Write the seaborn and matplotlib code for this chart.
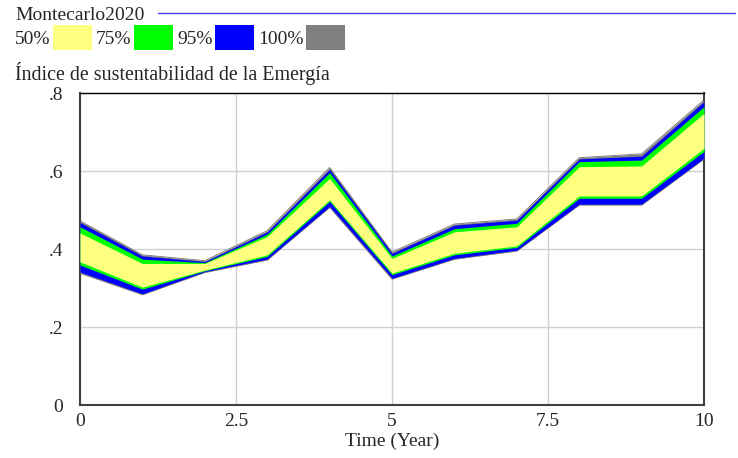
import numpy as np
import pandas as pd
import matplotlib
matplotlib.use("Agg")
import matplotlib.pyplot as plt
from matplotlib.patches import Patch
from matplotlib.lines import Line2D
from matplotlib.ticker import FuncFormatter
import seaborn as sns

# Sensitivity run: time axis and confidence band limits
time = [0, 1, 2, 3, 4, 5, 6, 7, 8, 9, 10]
p100_hi = [0.472, 0.385, 0.370, 0.447, 0.609, 0.392, 0.464, 0.477, 0.634, 0.644, 0.782]
p95_hi = [0.468, 0.382, 0.368, 0.444, 0.604, 0.389, 0.461, 0.474, 0.631, 0.638, 0.778]
p75_hi = [0.457, 0.374, 0.365, 0.438, 0.596, 0.382, 0.452, 0.466, 0.624, 0.628, 0.765]
p50_hi = [0.441, 0.363, 0.363, 0.432, 0.581, 0.376, 0.444, 0.457, 0.611, 0.613, 0.748]
p50_lo = [0.367, 0.302, 0.346, 0.385, 0.526, 0.338, 0.389, 0.408, 0.536, 0.536, 0.658]
p75_lo = [0.359, 0.297, 0.344, 0.381, 0.522, 0.334, 0.385, 0.404, 0.530, 0.530, 0.650]
p95_lo = [0.341, 0.285, 0.342, 0.374, 0.509, 0.325, 0.376, 0.397, 0.515, 0.515, 0.633]
p100_lo = [0.338, 0.283, 0.340, 0.372, 0.507, 0.323, 0.374, 0.395, 0.513, 0.513, 0.631]

band_labels = ["50%", "75%", "95%", "100%"]
band_colors = ["#ffff80", "#00ff00", "#0000ff", "#808080"]
x_ticks = [0, 2.5, 5, 7.5, 10]
y_ticks = [0, 0.2, 0.4, 0.6, 0.8]

sns.set_style("white")
plt.rcParams["font.family"] = ["Liberation Serif", "DejaVu Serif"]
plt.rcParams["font.size"] = 14

df = pd.DataFrame({"time": time, "hi": p100_hi, "lo": p100_lo})

fig = plt.figure(figsize=(7.38, 4.58), dpi=100)
ax = fig.add_axes([80 / 738, 1 - 405 / 458, 624 / 738, 312 / 458])

# outer edges of the 100% band (thin gray rim)
sns.lineplot(data=df, x="time", y="hi", ax=ax, color=band_colors[3], lw=0.7, zorder=2)
sns.lineplot(data=df, x="time", y="lo", ax=ax, color=band_colors[3], lw=0.7, zorder=2)

bands = [(p100_lo, p100_hi), (p95_lo, p95_hi), (p75_lo, p75_hi), (p50_lo, p50_hi)]
for (lo, hi), c in zip(bands, band_colors[::-1]):
    ax.fill_between(time, lo, hi, color=c, lw=0, zorder=3)

ax.set_xlim(0, 10)
ax.set_ylim(0, 0.8)
ax.set_xticks(x_ticks)
ax.set_yticks(y_ticks)
ax.xaxis.set_major_formatter(FuncFormatter(lambda v, p: f"{v:g}"))
ax.yaxis.set_major_formatter(FuncFormatter(lambda v, p: "0" if v == 0 else f"{v:.1f}".lstrip("0")))
ax.tick_params(axis="x", length=0, labelsize=14, pad=6)
ax.tick_params(axis="y", length=0, labelsize=14, pad=12)
ax.grid(True, color="#d0d0d0", lw=1.0, zorder=1)
ax.set_axisbelow(True)
ax.set_xlabel("Time (Year)", fontsize=14)
ax.set_ylabel("")
ax.xaxis.set_label_coords(0.5, -0.09)

for s in ["left", "right", "bottom"]:
    ax.spines[s].set_color("#404040")
    ax.spines[s].set_linewidth(1.5)
ax.spines["top"].set_color("black")
ax.spines["top"].set_linewidth(1.0)

# header: run name, legend, variable name
fig.text(15 / 738, 1 - 20 / 458, "Montecarlo2020", fontsize=14, va="baseline", ha="left")
fig.add_artist(Line2D([158 / 738, 735 / 738], [1 - 13 / 458, 1 - 13 / 458],
                      color="#4040ff", lw=1.0, transform=fig.transFigure))

handles = [Patch(facecolor=c, edgecolor="none") for c in band_colors]
fig.legend(handles, band_labels, ncol=4, markerfirst=False, frameon=False,
           loc="upper left", bbox_to_anchor=(15 / 738, 1 - 25 / 458),
           handlelength=2.0, handleheight=1.6, handletextpad=0.12,
           columnspacing=0.22, borderpad=0, borderaxespad=0, fontsize=14)

fig.text(15 / 738, 1 - 80 / 458, "Índice de sustentabilidad de la Emergía",
         fontsize=14.4, va="baseline", ha="left")

fig.savefig("out.png", dpi=100)
